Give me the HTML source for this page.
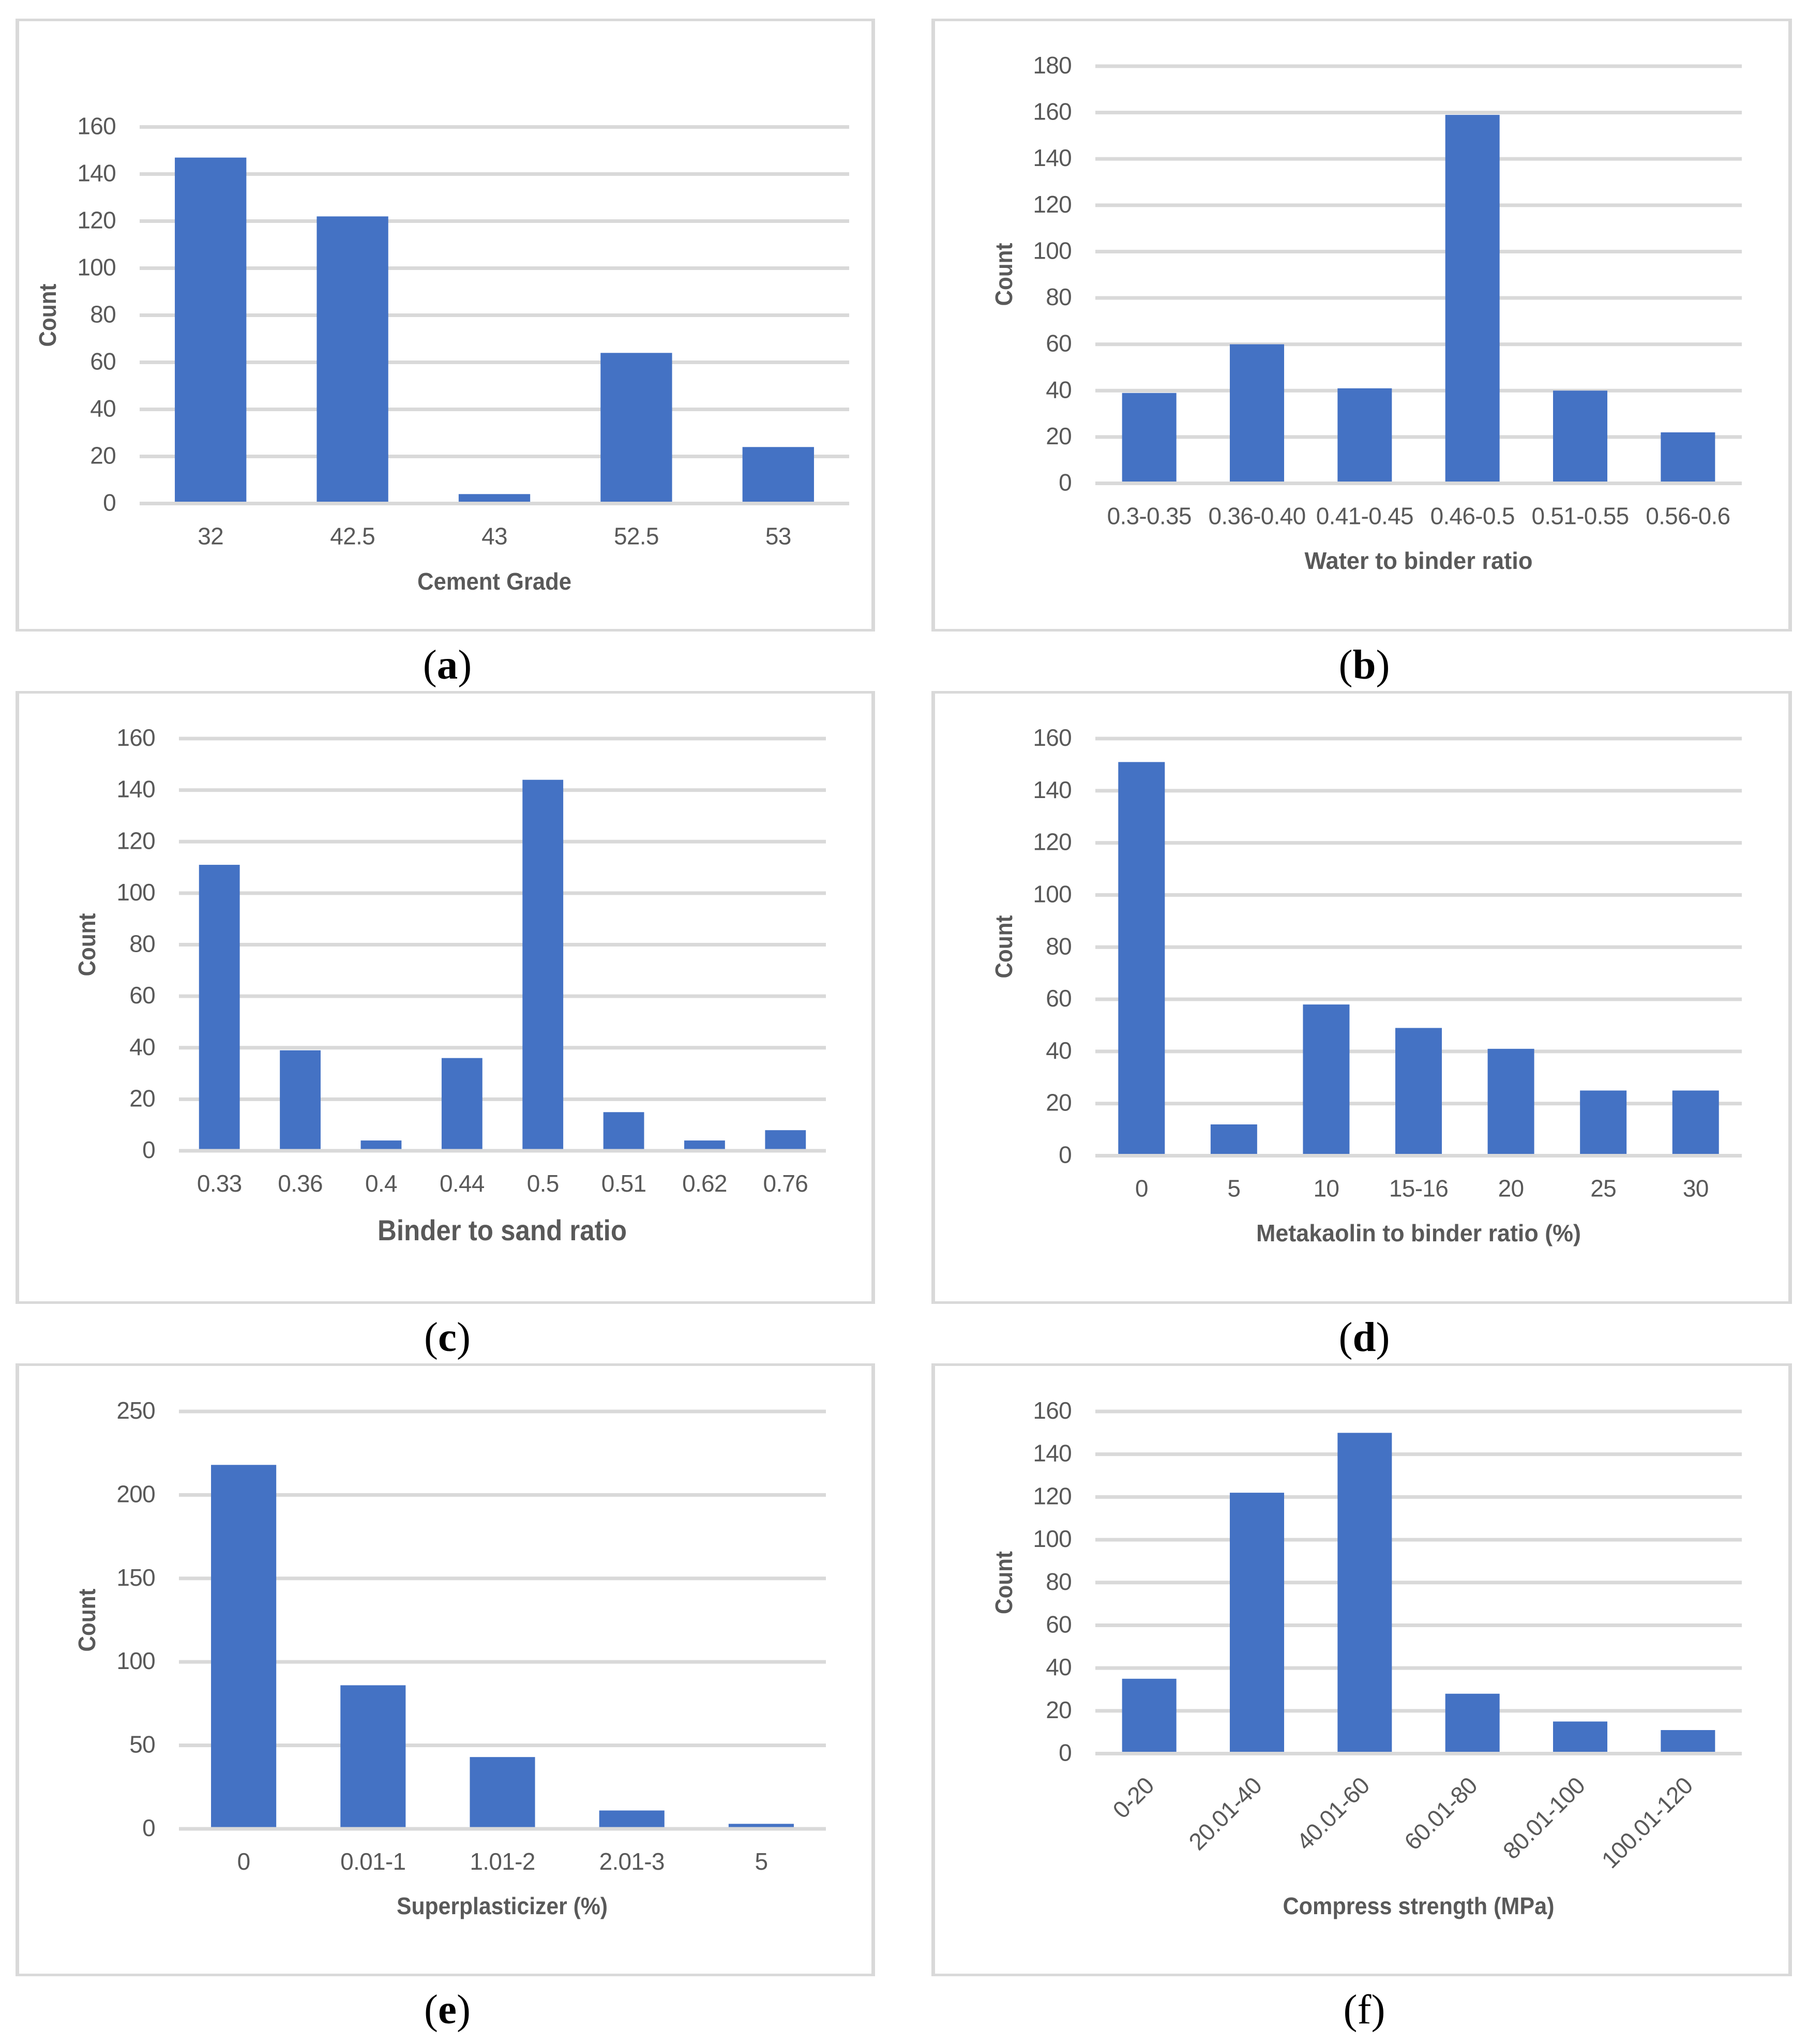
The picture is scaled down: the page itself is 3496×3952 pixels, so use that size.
<!DOCTYPE html>
<html lang="en">
<head>
<meta charset="utf-8">
<title>Distribution of concrete mix variables</title>
<style>
html,body{margin:0;padding:0;background:#fff;}
svg{display:block;}
.tick{font-family:"Liberation Sans",sans-serif;font-size:46px;letter-spacing:-0.7px;fill:#595959;}
.title{font-family:"Liberation Sans",sans-serif;font-size:46px;font-weight:bold;fill:#595959;}
.title-big{font-size:56px;}
.caption{font-family:"Liberation Serif",serif;font-size:81px;fill:#000;text-anchor:middle;}
.caption .letter{font-weight:bold;}
</style>
</head>
<body>
<svg id="figure" xmlns="http://www.w3.org/2000/svg" width="3496" height="3952" viewBox="0 0 3496 3952">
  <rect x="0" y="0" width="3496" height="3952" fill="#ffffff"/>

  <g id="panel-a">
    <rect x="30" y="36" width="1662" height="1185" fill="#d9d9d9"/>
    <rect x="37" y="41" width="1648" height="1175" fill="#ffffff"/>
    <g id="plot-a"></g>
    <text class="title" transform="translate(108 609.5) rotate(-90)" text-anchor="middle" textLength="122" lengthAdjust="spacingAndGlyphs">Count</text>
    <text class="title" x="956" y="1140" text-anchor="middle" textLength="298" lengthAdjust="spacingAndGlyphs">Cement Grade</text>
    <text class="caption" x="865" y="1312">(<tspan class="letter">a</tspan>)</text>
  </g>

  <g id="panel-b">
    <rect x="1801" y="36" width="1664" height="1185" fill="#d9d9d9"/>
    <rect x="1808" y="41" width="1650" height="1175" fill="#ffffff"/>
    <g id="plot-b"></g>
    <text class="title" transform="translate(1957 530.5) rotate(-90)" text-anchor="middle" textLength="122" lengthAdjust="spacingAndGlyphs">Count</text>
    <text class="title" x="2743" y="1100" text-anchor="middle" textLength="441" lengthAdjust="spacingAndGlyphs">Water to binder ratio</text>
    <text class="caption" x="2638" y="1312">(<tspan class="letter">b</tspan>)</text>
  </g>

  <g id="panel-c">
    <rect x="30" y="1336" width="1662" height="1185" fill="#d9d9d9"/>
    <rect x="37" y="1341" width="1648" height="1175" fill="#ffffff"/>
    <g id="plot-c"></g>
    <text class="title" transform="translate(184 1826.5) rotate(-90)" text-anchor="middle" textLength="122" lengthAdjust="spacingAndGlyphs">Count</text>
    <text class="title title-big" x="971" y="2398" text-anchor="middle" textLength="482" lengthAdjust="spacingAndGlyphs">Binder to sand ratio</text>
    <text class="caption" x="865" y="2612">(<tspan class="letter">c</tspan>)</text>
  </g>

  <g id="panel-d">
    <rect x="1801" y="1336" width="1664" height="1185" fill="#d9d9d9"/>
    <rect x="1808" y="1341" width="1650" height="1175" fill="#ffffff"/>
    <g id="plot-d"></g>
    <text class="title" transform="translate(1957 1830.5) rotate(-90)" text-anchor="middle" textLength="122" lengthAdjust="spacingAndGlyphs">Count</text>
    <text class="title" x="2743" y="2400" text-anchor="middle" textLength="628" lengthAdjust="spacingAndGlyphs">Metakaolin to binder ratio (%)</text>
    <text class="caption" x="2638" y="2612">(<tspan class="letter">d</tspan>)</text>
  </g>

  <g id="panel-e">
    <rect x="30" y="2636" width="1662" height="1185" fill="#d9d9d9"/>
    <rect x="37" y="2641" width="1648" height="1175" fill="#ffffff"/>
    <g id="plot-e"></g>
    <text class="title" transform="translate(184 3132.5) rotate(-90)" text-anchor="middle" textLength="122" lengthAdjust="spacingAndGlyphs">Count</text>
    <text class="title" x="971" y="3701" text-anchor="middle" textLength="408" lengthAdjust="spacingAndGlyphs">Superplasticizer (%)</text>
    <text class="caption" x="865" y="3912">(<tspan class="letter">e</tspan>)</text>
  </g>

  <g id="panel-f">
    <rect x="1801" y="2636" width="1664" height="1185" fill="#d9d9d9"/>
    <rect x="1808" y="2641" width="1650" height="1175" fill="#ffffff"/>
    <g id="plot-f"></g>
    <text class="title" transform="translate(1957 3060) rotate(-90)" text-anchor="middle" textLength="122" lengthAdjust="spacingAndGlyphs">Count</text>
    <text class="title" x="2743" y="3701" text-anchor="middle" textLength="525" lengthAdjust="spacingAndGlyphs">Compress strength (MPa)</text>
    <text class="caption" x="2638" y="3912">(f)</text>
  </g>
</svg>

<script>
var cementCategories = ['32', '42.5', '43', '52.5', '53'];
var cementCounts = [147, 122, 4, 64, 24];
var cementTicks = [0, 20, 40, 60, 80, 100, 120, 140, 160];

var waterCategories = ['0.3-0.35', '0.36-0.40', '0.41-0.45', '0.46-0.5', '0.51-0.55', '0.56-0.6'];
var waterCounts = [39, 60, 41, 159, 40, 22];
var waterTicks = [0, 20, 40, 60, 80, 100, 120, 140, 160, 180];

var binderCategories = ['0.33', '0.36', '0.4', '0.44', '0.5', '0.51', '0.62', '0.76'];
var binderCounts = [111, 39, 4, 36, 144, 15, 4, 8];
var binderTicks = [0, 20, 40, 60, 80, 100, 120, 140, 160];

var metakaolinCategories = ['0', '5', '10', '15-16', '20', '25', '30'];
var metakaolinCounts = [151, 12, 58, 49, 41, 25, 25];
var metakaolinTicks = [0, 20, 40, 60, 80, 100, 120, 140, 160];

var plasticizerCategories = ['0', '0.01-1', '1.01-2', '2.01-3', '5'];
var plasticizerCounts = [218, 86, 43, 11, 3];
var plasticizerTicks = [0, 50, 100, 150, 200, 250];

var strengthCategories = ['0-20', '20.01-40', '40.01-60', '60.01-80', '80.01-100', '100.01-120'];
var strengthCounts = [35, 122, 150, 28, 15, 11];
var strengthTicks = [0, 20, 40, 60, 80, 100, 120, 140, 160];

var SVG_NS = 'http://www.w3.org/2000/svg';

function drawChart(plotId, categories, counts, ticks, frame) {
  var plot = document.getElementById(plotId);
  var axisMax = ticks[ticks.length - 1];
  var gridThickness = 7;
  var band = (frame.right - frame.left) / categories.length;
  var barWidth = band * 0.504;

  function yScale(v) {
    return frame.zero - (v / axisMax) * (frame.zero - frame.top);
  }
  function xScale(i) {
    return frame.left + band * (i + 0.5);
  }
  function addGridline(v) {
    var line = document.createElementNS(SVG_NS, 'rect');
    
    
    line.setAttribute('x', frame.left);
    line.setAttribute('y', yScale(v) - gridThickness / 2);
    line.setAttribute('width', frame.right - frame.left);
    line.setAttribute('height', gridThickness);
    line.setAttribute('fill', '#d9d9d9');
    plot.appendChild(line);
  }

  ticks.forEach(function (v) {
    if (v !== 0) addGridline(v);
    var label = document.createElementNS(SVG_NS, 'text');
    
    
    label.setAttribute('class', 'tick');
    label.setAttribute('x', frame.left - 46);
    label.setAttribute('y', yScale(v) + 14);
    label.setAttribute('text-anchor', 'end');
    label.textContent = v;
    plot.appendChild(label);
  });

  counts.forEach(function (v, i) {
    var bar = document.createElementNS(SVG_NS, 'rect');
    
    
    bar.setAttribute('x', xScale(i) - barWidth / 2);
    bar.setAttribute('y', yScale(v));
    bar.setAttribute('width', barWidth);
    bar.setAttribute('height', yScale(0) - yScale(v));
    bar.setAttribute('fill', '#4472c4');
    plot.appendChild(bar);
  });

  addGridline(0);

  categories.forEach(function (c, i) {
    var label = document.createElementNS(SVG_NS, 'text');
    
    
    label.setAttribute('class', 'tick');
    if (frame.rotated) {
      label.setAttribute('text-anchor', 'end');
      label.setAttribute('transform', 'translate(' + (xScale(i) + 12) + ' ' + (yScale(0) + 65) + ') rotate(-45)');
    } else {
      label.setAttribute('text-anchor', 'middle');
      label.setAttribute('x', xScale(i));
      label.setAttribute('y', yScale(0) + 79);
    }
    label.textContent = c;
    plot.appendChild(label);
  });
}

drawChart('plot-a', cementCategories, cementCounts, cementTicks, {left: 270, right: 1642, top: 245.5, zero: 973.5});
drawChart('plot-b', waterCategories, waterCounts, waterTicks, {left: 2118, right: 3368, top: 128, zero: 934.5});
drawChart('plot-c', binderCategories, binderCounts, binderTicks, {left: 346, right: 1597, top: 1428, zero: 2225});
drawChart('plot-d', metakaolinCategories, metakaolinCounts, metakaolinTicks, {left: 2118, right: 3368, top: 1428, zero: 2234.5});
drawChart('plot-e', plasticizerCategories, plasticizerCounts, plasticizerTicks, {left: 346, right: 1597, top: 2729, zero: 3536});
drawChart('plot-f', strengthCategories, strengthCounts, strengthTicks, {left: 2118, right: 3368, top: 2729, zero: 3390.5, rotated: true});
</script>
</body>
</html>
